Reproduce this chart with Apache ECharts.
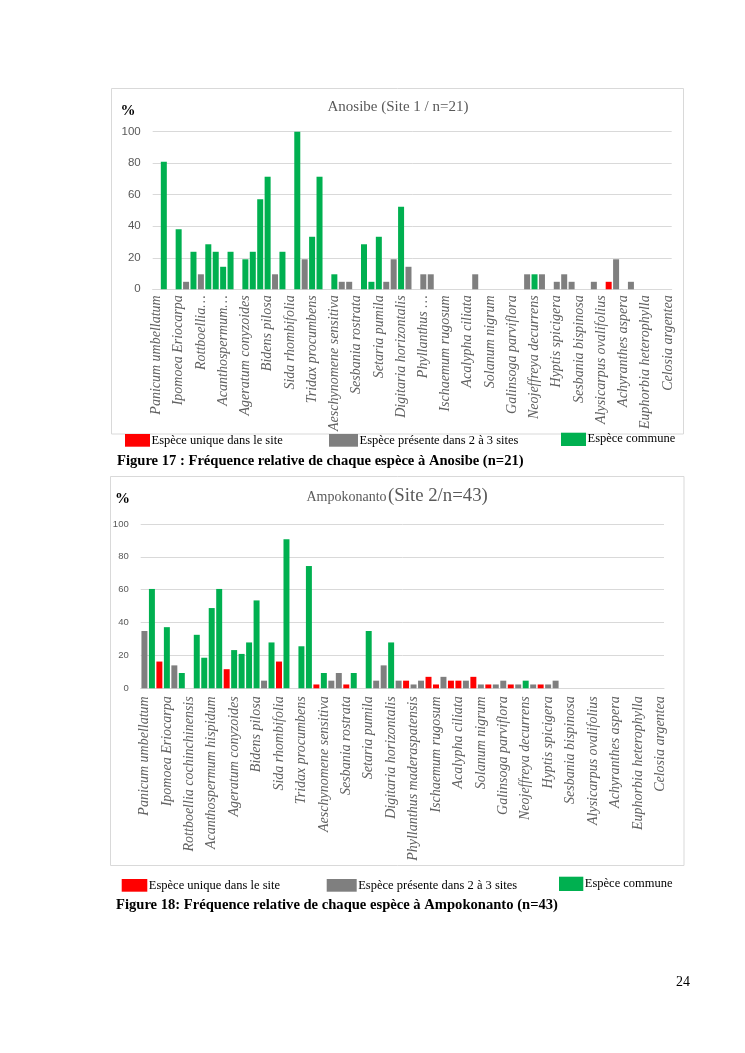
<!DOCTYPE html>
<html>
<head>
<meta charset="utf-8">
<script src="https://cdn.jsdelivr.net/npm/echarts@6/dist/echarts.min.js"></script>
<style>
html,body{margin:0;padding:0;background:#fff;}
#chart{width:745px;height:1053px;}
</style>
</head>
<body>
<div id="chart"></div>
<script>
// ---- Data ----
const speciesLabels1 = ['Panicum umbellatum','Ipomoea Eriocarpa','Rottboellia…','Acanthospermum…','Ageratum conyzoides','Bidens pilosa','Sida rhombifolia','Tridax procumbens','Aeschynomene sensitiva','Sesbania rostrata','Setaria pumila','Digitaria horizontalis','Phyllanthus …','Ischaemum rugosum','Acalypha ciliata','Solanum nigrum','Galinsoga parviflora','Neojeffreya decurrens','Hyptis spicigera','Sesbania bispinosa','Alysicarpus ovalifolius','Achyranthes aspera','Euphorbia heterophylla','Celosia argentea'];
const speciesLabels2 = ['Panicum umbellatum','Ipomoea Eriocarpa','Rottboellia cochinchinensis','Acanthospermum hispidum','Ageratum conyzoides','Bidens pilosa','Sida rhombifolia','Tridax procumbens','Aeschynomene sensitiva','Sesbania rostrata','Setaria pumila','Digitaria horizontalis','Phyllanthus maderaspatensis','Ischaemum rugosum','Acalypha ciliata','Solanum nigrum','Galinsoga parviflora','Neojeffreya decurrens','Hyptis spicigera','Sesbania bispinosa','Alysicarpus ovalifolius','Achyranthes aspera','Euphorbia heterophylla','Celosia argentea'];

// Site 1 (Anosibe, n=21) – relative frequency (%)
const values1 = [
  0,80.95,0,38.10,4.76,23.81,9.52,28.57,23.81,14.29,
  23.81,0,19.05,23.81,57.14,71.43,9.52,23.81,0,100,
  19.05,33.33,71.43,0,9.52,4.76,4.76,0,28.57,4.76,
  33.33,4.76,19.05,52.38,14.29,0,9.52,9.52,0,0,
  0,0,0,9.52,0,0,0,0,0,0,
  9.52,9.52,9.52,0,4.76,9.52,4.76,0,0,4.76,
  0,4.76,19.05,0,4.76,0,0,0,0,0];
// status: U = unique, P = present in 2-3 sites, C = common, '-' = none
const status1 = [
  '-','C','-','C','P','C','P','C','C','C',
  'C','-','C','C','C','C','P','C','-','C',
  'P','C','C','-','C','P','P','-','C','C',
  'C','P','P','C','P','-','P','P','-','-',
  '-','-','-','P','-','-','-','-','-','-',
  'P','C','P','-','P','P','P','-','-','P',
  '-','U','P','-','P','-','-','-','-','-'];

// Site 2 (Ampokonanto, n=43)
const values2 = [
  34.88,60.47,16.28,37.21,13.95,9.30,0,32.56,18.60,48.84,
  60.47,11.63,23.26,20.93,27.91,53.49,4.65,27.91,16.28,90.70,
  0,25.58,74.42,2.33,9.30,4.65,9.30,2.33,9.30,0,
  34.88,4.65,13.95,27.91,4.65,4.65,2.33,4.65,6.98,2.33,
  6.98,4.65,4.65,4.65,6.98,2.33,2.33,2.33,4.65,2.33,
  2.33,4.65,2.33,2.33,2.33,4.65,0,0,0,0,
  0,0,0,0,0,0,0,0,0,0];
const status2 = [
  'P','C','U','C','P','C','-','C','C','C',
  'C','U','C','C','C','C','P','C','U','C',
  '-','C','C','U','C','P','P','U','C','-',
  'C','P','P','C','P','U','P','P','U','U',
  'P','U','U','P','U','P','U','P','P','U',
  'P','C','P','U','P','P','-','-','-','-',
  '-','-','-','-','-','-','-','-','-','-'];

const yTicks = [0, 20, 40, 60, 80, 100];
const legendLabels = ['Espèce unique dans le site', 'Espèce présente dans 2 à 3 sites', 'Espèce commune'];
const titles = ['Anosibe (Site 1 / n=21)', 'Ampokonanto', '(Site 2/n=43)'];
const captions = ['Figure 17 : Fréquence relative de chaque espèce à Anosibe (n=21)', 'Figure 18: Fréquence relative de chaque espèce à Ampokonanto (n=43)'];

// ---- Build ----
const COLORS = {C:'#00B050', P:'#7F7F7F', U:'#FF0000', '-':'#7F7F7F'};
function buildCats(labels, n){
  const out = [];
  for (let i = 0; i < n; i++) out.push(i % 3 === 0 ? labels[i/3] : '');
  return out;
}
function buildData(vals, st){
  return vals.map((v,i)=>({value:v, itemStyle:{color:COLORS[st[i]]}}));
}
const cats1 = buildCats(speciesLabels1, values1.length);
const cats2 = buildCats(speciesLabels2, values2.length);

const serif = 'Liberation Serif, Times New Roman, serif';
const sans = 'Liberation Sans, Arial, sans-serif';

function xAxis(idx, cats, margin){
  return {
    type:'category', gridIndex:idx, data:cats,
    axisLine:{show:true, lineStyle:{color:'#d9d9d9', width:1}},
    axisTick:{show:false},
    axisLabel:{interval:0, rotate:90, margin:margin, fontFamily:serif, fontStyle:'italic', fontSize:14, color:'#606060'}
  };
}
function yAxis(idx, size){
  return {
    type:'value', gridIndex:idx, min:yTicks[0], max:yTicks[yTicks.length-1], interval:yTicks[1]-yTicks[0],
    axisLine:{show:false}, axisTick:{show:false},
    splitLine:{lineStyle:{color:'#d9d9d9', width:1}},
    axisLabel:{fontFamily:sans, fontSize:size, color:'#595959', margin:12}
  };
}

const g = [];
// frames
g.push({type:'rect', shape:{x:111.5, y:88.5, width:572, height:345.5}, style:{fill:'none', stroke:'#d9d9d9', lineWidth:1}, z:0});
g.push({type:'rect', shape:{x:110.5, y:476.5, width:573.5, height:389}, style:{fill:'none', stroke:'#d9d9d9', lineWidth:1}, z:0});
// titles
g.push({type:'text', style:{x:398, y:106.6, text:titles[0], font:'15px '+serif, fill:'#595959', textAlign:'center', textVerticalAlign:'middle'}});
g.push({type:'text', style:{x:306.5, y:497.3, text:titles[1], font:'14px '+serif, fill:'#595959', textAlign:'left', textVerticalAlign:'middle'}});
g.push({type:'text', style:{x:388, y:495.8, text:titles[2], font:'18.8px '+serif, fill:'#595959', textAlign:'left', textVerticalAlign:'middle'}});
// % labels
g.push({type:'text', style:{x:128, y:111, text:'%', font:'bold 15px '+serif, fill:'#000', textAlign:'center', textVerticalAlign:'middle'}});
g.push({type:'text', style:{x:122.5, y:499.5, text:'%', font:'bold 15px '+serif, fill:'#000', textAlign:'center', textVerticalAlign:'middle'}});
// legends
function legend(boxes, ys, textYs){
  const cols = [COLORS.U, COLORS.P, COLORS.C];
  boxes.forEach((b,i)=>{
    g.push({type:'rect', shape:{x:b[0], y:ys[i][0], width:b[1]-b[0], height:ys[i][1]-ys[i][0]}, style:{fill:cols[i]}, z:5});
    g.push({type:'text', style:{x:b[1]+1.5, y:textYs[i], text:legendLabels[i], font:'12.5px '+serif, fill:'#000', textAlign:'left', textVerticalAlign:'middle'}, z:5});
  });
}
legend([[125,150],[329,358],[561,586]], [[434,446.7],[434,446.7],[432.7,446]], [441,441,439]);
legend([[121.7,147.3],[326.7,356.7],[559,583.3]], [[879,891.7],[879,891.7],[876.7,891]], [885.5,885.5,884]);
// captions
g.push({type:'text', style:{x:117, y:461, text:captions[0], font:'bold 14.6px '+serif, fill:'#000', textAlign:'left', textVerticalAlign:'middle'}});
g.push({type:'text', style:{x:116, y:905, text:captions[1], font:'bold 14.6px '+serif, fill:'#000', textAlign:'left', textVerticalAlign:'middle'}});
// page number
g.push({type:'text', style:{x:683, y:982, text:'24', font:'14px '+serif, fill:'#000', textAlign:'center', textVerticalAlign:'middle'}});

const option = {
  animation:false,
  backgroundColor:'#fff',
  grid:[
    {left:152.7, right:745-671.7, top:131.7, bottom:1053-289.3, containLabel:false},
    {left:140.7, right:745-664, top:524, bottom:1053-688.3, containLabel:false}
  ],
  xAxis:[xAxis(0, cats1, 6), xAxis(1, cats2, 8)],
  yAxis:[yAxis(0, 11.5), yAxis(1, 9.5)],
  series:[
    {type:'bar', xAxisIndex:0, yAxisIndex:0, data:buildData(values1, status1), barCategoryGap:'19%'},
    {type:'bar', xAxisIndex:1, yAxisIndex:1, data:buildData(values2, status2), barCategoryGap:'20%'}
  ],
  graphic:g
};
const chart = echarts.init(document.getElementById('chart'), null, {renderer:'canvas', width:745, height:1053});
chart.setOption(option);
</script>
</body>
</html>
